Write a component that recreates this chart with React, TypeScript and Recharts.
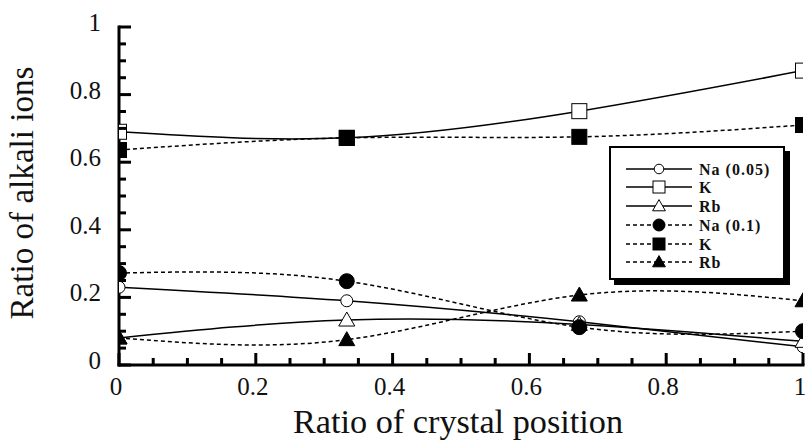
import React from "react";
import { Legend, Line, LineChart, XAxis, YAxis } from "recharts";

// crystal position (fraction of length) and ion ratios
const positions = [0, 0.333, 0.673, 1];
const naLow = [0.23, 0.19, 0.128, 0.054];
const kLow = [0.69, 0.672, 0.751, 0.871];
const rbLow = [0.08, 0.133, 0.12, 0.07];
const naHigh = [0.272, 0.248, 0.112, 0.1];
const kHigh = [0.636, 0.672, 0.675, 0.71];
const rbHigh = [0.08, 0.075, 0.207, 0.19];

const minorTicks = [
  0, 0.05, 0.1, 0.15, 0.2, 0.25, 0.3, 0.35, 0.4, 0.45, 0.5, 0.55, 0.6, 0.65, 0.7, 0.75, 0.8,
  0.85, 0.9, 0.95, 1,
];
const majorLabels: Record<string, string> = {
  "0": "0",
  "0.2": "0.2",
  "0.4": "0.4",
  "0.6": "0.6",
  "0.8": "0.8",
  "1": "1",
};

type Shape = "circle" | "square" | "triangle";

const series = [
  { key: "naLow", name: "Na (0.05)", values: naLow, shape: "circle" as Shape, filled: false, dashed: false },
  { key: "kLow", name: "K", values: kLow, shape: "square" as Shape, filled: false, dashed: false },
  { key: "rbLow", name: "Rb", values: rbLow, shape: "triangle" as Shape, filled: false, dashed: false },
  { key: "naHigh", name: "Na (0.1)", values: naHigh, shape: "circle" as Shape, filled: true, dashed: true },
  { key: "kHigh", name: "K", values: kHigh, shape: "square" as Shape, filled: true, dashed: true },
  { key: "rbHigh", name: "Rb", values: rbHigh, shape: "triangle" as Shape, filled: true, dashed: true },
];

const data = positions.map((x, i) => {
  const row: Record<string, number> = { x };
  series.forEach((s) => (row[s.key] = s.values[i]));
  return row;
});

const FONT = "Liberation Serif";
const DASH = "4 3";

function Marker({ cx, cy, shape, filled, small }: { cx: number; cy: number; shape: Shape; filled: boolean; small?: boolean }) {
  const fill = filled ? "#000" : "#fff";
  const k = small ? 0.8 : 1;
  if (shape === "circle") {
    const r = (filled ? 7.5 : 6) * k;
    return <circle cx={cx} cy={cy} r={r} fill={fill} stroke="#000" strokeWidth={1} />;
  }
  if (shape === "square") {
    const h = 7.5 * k;
    return <rect x={cx - h} y={cy - h} width={h * 2} height={h * 2} fill={fill} stroke="#000" strokeWidth={1} />;
  }
  const w = 8 * k;
  return (
    <polygon
      points={`${cx},${cy - 8 * k} ${cx + w},${cy + 6 * k} ${cx - w},${cy + 6 * k}`}
      fill={fill}
      stroke="#000"
      strokeWidth={1}
    />
  );
}

const isMajor = (v: number) => Math.abs(v * 5 - Math.round(v * 5)) < 1e-6;
const label = (v: number) => majorLabels[String(Math.round(v * 10) / 10)] ?? "";

function BottomTick({ x, y, payload }: any) {
  const v = payload.value;
  const major = isMajor(v);
  return (
    <g>
      <line x1={x} x2={x} y1={y} y2={y - (major ? 12 : 7)} stroke="#000" strokeWidth={3} />
      {major && (
        <text x={x - 3} y={y + 30} textAnchor="middle" fontFamily={FONT} fontSize={25} fill="#111">
          {label(v)}
        </text>
      )}
    </g>
  );
}

function TopTick({ x, y, payload }: any) {
  const major = isMajor(payload.value);
  return <line x1={x} x2={x} y1={y} y2={y + (major ? 12 : 7)} stroke="#000" strokeWidth={3} />;
}

function LeftTick({ x, y, payload }: any) {
  const v = payload.value;
  const major = isMajor(v);
  return (
    <g>
      <line x1={x} x2={x + (major ? 12 : 7)} y1={y} y2={y} stroke="#000" strokeWidth={3} />
      {major && (
        <text x={x - 18} y={y + 4} textAnchor="end" fontFamily={FONT} fontSize={25} fill="#111">
          {label(v)}
        </text>
      )}
    </g>
  );
}

function RightTick({ x, y, payload }: any) {
  const major = isMajor(payload.value);
  return <line x1={x} x2={x - (major ? 12 : 7)} y1={y} y2={y} stroke="#000" strokeWidth={3} />;
}

function LegendBox() {
  const rowY = [21, 39, 58, 77, 96, 114];
  return (
    <div style={{ position: "relative", width: 176, height: 134 }}>
      <div style={{ position: "absolute", left: 5, top: 5, width: 176, height: 134, background: "#000" }} />
      <svg
        width={176}
        height={134}
        style={{ position: "absolute", left: 0, top: 0, background: "#fff", border: "2px solid #000", boxSizing: "border-box" }}
      >
        {series.map((s, i) => (
          <g key={s.key}>
            <line
              x1={15}
              x2={81}
              y1={rowY[i]}
              y2={rowY[i]}
              stroke="#000"
              strokeWidth={1.5}
              strokeDasharray={s.dashed ? DASH : undefined}
            />
            <Marker cx={48} cy={rowY[i]} shape={s.shape} filled={s.filled} small />
            <text
              x={88}
              y={rowY[i] + 6}
              fontFamily={FONT}
              fontWeight="bold"
              fontSize={16}
              letterSpacing={1}
              fill="#111"
            >
              {s.name}
            </text>
          </g>
        ))}
      </svg>
    </div>
  );
}

export default function App() {
  const frame = { stroke: "#000", strokeWidth: 3, strokeLinecap: "square" as const };
  return (
    <div style={{ position: "absolute", left: 0, top: 0, width: 806, height: 441, overflow: "hidden", background: "#fff" }}>
      <LineChart width={840} height={441} data={data} margin={{ top: 27, right: 37, bottom: 0, left: 0 }}>
        <XAxis
          dataKey="x"
          type="number"
          domain={[0, 1]}
          ticks={minorTicks}
          interval={0}
          tickSize={0}
          tickMargin={0}
          tickLine={false}
          axisLine={frame}
          tick={<BottomTick />}
          height={76}
          allowDataOverflow
          label={{
            content: ({ viewBox }: any) => (
              <text
                x={viewBox.x + viewBox.width / 2 - 3}
                y={viewBox.y + 68}
                textAnchor="middle"
                fontFamily={FONT}
                fontSize={33}
                fill="#111"
                textLength={330}
                lengthAdjust="spacingAndGlyphs"
              >
                Ratio of crystal position
              </text>
            ),
          }}
        />
        <XAxis
          xAxisId="top"
          orientation="top"
          type="number"
          domain={[0, 1]}
          ticks={minorTicks}
          interval={0}
          tickSize={0}
          tickMargin={0}
          tickLine={false}
          axisLine={frame}
          tick={<TopTick />}
          height={0}
          allowDataOverflow
        />
        <YAxis
          type="number"
          domain={[0, 1]}
          ticks={minorTicks}
          interval={0}
          tickSize={0}
          tickMargin={0}
          tickLine={false}
          axisLine={frame}
          tick={<LeftTick />}
          width={119}
          allowDataOverflow
          label={{
            content: ({ viewBox }: any) => {
              const cx = viewBox.x + 33;
              const cy = viewBox.y + viewBox.height / 2 - 3;
              return (
                <text
                  x={cx}
                  y={cy}
                  transform={`rotate(-90 ${cx} ${cy})`}
                  textAnchor="middle"
                  fontFamily={FONT}
                  fontSize={33}
                  fill="#111"
                  textLength={253}
                  lengthAdjust="spacingAndGlyphs"
                >
                  Ratio of alkali ions
                </text>
              );
            },
          }}
        />
        <YAxis
          yAxisId="right"
          orientation="right"
          type="number"
          domain={[0, 1]}
          ticks={minorTicks}
          interval={0}
          tickSize={0}
          tickMargin={0}
          tickLine={false}
          axisLine={frame}
          tick={<RightTick />}
          width={0}
          allowDataOverflow
        />
        <Legend
          layout="vertical"
          align="center"
          verticalAlign="middle"
          content={() => <LegendBox />}
          wrapperStyle={{ position: "absolute", left: 609, top: 146, width: 181, height: 139 }}
        />
        {series.map((s) => (
          <Line
            key={s.key}
            dataKey={s.key}
            name={s.name}
            type="natural"
            stroke="#000"
            strokeWidth={1.5}
            strokeDasharray={s.dashed ? DASH : undefined}
            isAnimationActive={false}
            dot={(p: any) => (
              <Marker key={`${s.key}-${p.index}`} cx={p.cx} cy={p.cy} shape={s.shape} filled={s.filled} />
            )}
            activeDot={false}
          />
        ))}
      </LineChart>
    </div>
  );
}
